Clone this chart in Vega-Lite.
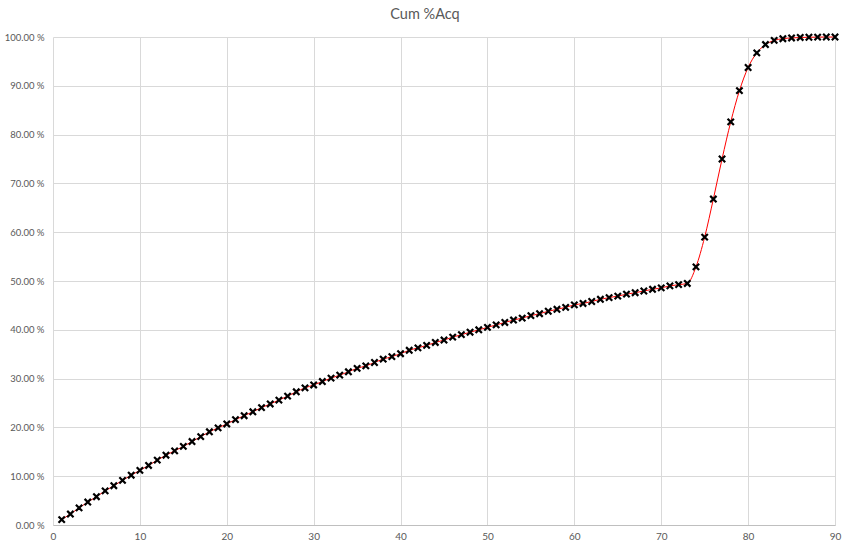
{
  "$schema": "https://vega.github.io/schema/vega-lite/v6.json",
  "width": 782,
  "height": 488,
  "autosize": {"type": "none"},
  "padding": {"left": 53, "top": 37, "right": 15, "bottom": 27},
  "background": "white",
  "title": {"text": "Cum %Acq", "font": "Lato", "fontSize": 14.5, "fontWeight": "normal", "color": "#595959", "anchor": "middle", "dx": -19, "offset": 7},
  "config": {"view": {"stroke": null}, "font": "Lato"},
  "data": {"values": [
    {"n": 1, "p": 1.1}, {"n": 2, "p": 2.25}, {"n": 3, "p": 3.5}, {"n": 4, "p": 4.7}, {"n": 5, "p": 5.8},
    {"n": 6, "p": 7.0}, {"n": 7, "p": 8.05}, {"n": 8, "p": 9.15}, {"n": 9, "p": 10.2}, {"n": 10, "p": 11.2},
    {"n": 11, "p": 12.2}, {"n": 12, "p": 13.3}, {"n": 13, "p": 14.3}, {"n": 14, "p": 15.2}, {"n": 15, "p": 16.1},
    {"n": 16, "p": 17.1}, {"n": 17, "p": 18.1}, {"n": 18, "p": 19.1}, {"n": 19, "p": 19.9}, {"n": 20, "p": 20.7},
    {"n": 21, "p": 21.6}, {"n": 22, "p": 22.4}, {"n": 23, "p": 23.2}, {"n": 24, "p": 24.05}, {"n": 25, "p": 24.8},
    {"n": 26, "p": 25.6}, {"n": 27, "p": 26.4}, {"n": 28, "p": 27.3}, {"n": 29, "p": 28.1}, {"n": 30, "p": 28.7},
    {"n": 31, "p": 29.4}, {"n": 32, "p": 30.1}, {"n": 33, "p": 30.7}, {"n": 34, "p": 31.4}, {"n": 35, "p": 32.1},
    {"n": 36, "p": 32.6}, {"n": 37, "p": 33.3}, {"n": 38, "p": 34.0}, {"n": 39, "p": 34.5}, {"n": 40, "p": 35.1},
    {"n": 41, "p": 35.8}, {"n": 42, "p": 36.3}, {"n": 43, "p": 36.8}, {"n": 44, "p": 37.4}, {"n": 45, "p": 37.9},
    {"n": 46, "p": 38.5}, {"n": 47, "p": 39.0}, {"n": 48, "p": 39.5}, {"n": 49, "p": 40.0}, {"n": 50, "p": 40.5},
    {"n": 51, "p": 41.0}, {"n": 52, "p": 41.5}, {"n": 53, "p": 42.0}, {"n": 54, "p": 42.4}, {"n": 55, "p": 42.9},
    {"n": 56, "p": 43.3}, {"n": 57, "p": 43.8}, {"n": 58, "p": 44.2}, {"n": 59, "p": 44.6}, {"n": 60, "p": 45.1},
    {"n": 61, "p": 45.4}, {"n": 62, "p": 45.8}, {"n": 63, "p": 46.25}, {"n": 64, "p": 46.6}, {"n": 65, "p": 46.9},
    {"n": 66, "p": 47.3}, {"n": 67, "p": 47.6}, {"n": 68, "p": 47.95}, {"n": 69, "p": 48.3}, {"n": 70, "p": 48.6},
    {"n": 71, "p": 49.0}, {"n": 72, "p": 49.25}, {"n": 73, "p": 49.5}, {"n": 74, "p": 52.9}, {"n": 75, "p": 59.0},
    {"n": 76, "p": 66.8}, {"n": 77, "p": 75.0}, {"n": 78, "p": 82.6}, {"n": 79, "p": 89.0}, {"n": 80, "p": 93.75},
    {"n": 81, "p": 96.75}, {"n": 82, "p": 98.45}, {"n": 83, "p": 99.3}, {"n": 84, "p": 99.65}, {"n": 85, "p": 99.8},
    {"n": 86, "p": 99.9}, {"n": 87, "p": 99.95}, {"n": 88, "p": 99.98}, {"n": 89, "p": 100.0}, {"n": 90, "p": 100.0}
  ]},
  "encoding": {
    "x": {"field": "n", "type": "quantitative", "scale": {"domain": [0, 90], "nice": false, "zero": false},
      "axis": {"title": null, "values": [0, 10, 20, 30, 40, 50, 60, 70, 80, 90], "grid": true, "gridColor": "#d9d9d9", "gridWidth": 1,
        "domain": true, "domainColor": "#bfbfbf", "domainWidth": 1, "ticks": false, "labelFlush": false, "labelFont": "Lato", "labelFontSize": 10, "labelColor": "#595959", "labelPadding": 6}},
    "y": {"field": "p", "type": "quantitative", "scale": {"domain": [0, 100], "nice": false},
      "axis": {"title": null, "values": [0, 10, 20, 30, 40, 50, 60, 70, 80, 90, 100], "grid": true, "gridColor": "#d9d9d9", "gridWidth": 1,
        "domain": false, "ticks": false, "labelFlush": false, "labelFont": "Lato", "labelFontSize": 9.5, "labelColor": "#595959", "labelPadding": 9,
        "labelExpr": "format(datum.value, '.2f') + ' %'"}}
  },
  "layer": [
    {"mark": {"type": "line", "color": "#ff0000", "strokeWidth": 1, "interpolate": "monotone"}},
    {"mark": {"type": "point", "shape": "M-1,-1L1,1M-1,1L1,-1", "filled": false, "stroke": "#000000", "strokeWidth": 2.2, "size": 40, "opacity": 1}}
  ]
}
